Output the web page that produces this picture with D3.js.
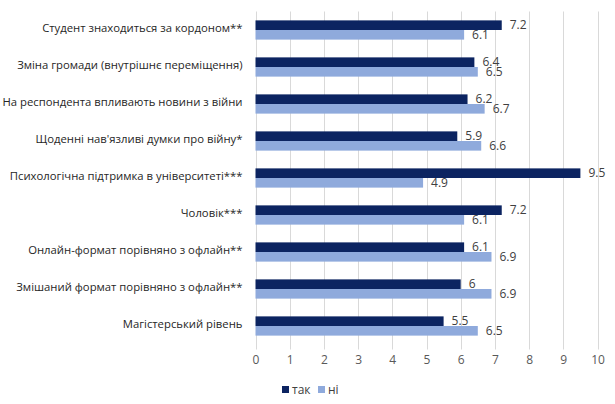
<!DOCTYPE html>
<html><head><meta charset="utf-8">
<script src="https://cdn.jsdelivr.net/npm/d3@7"></script>
<style>body{margin:0;background:#fff;} svg{display:block;}</style>
</head><body>
<svg id="c" width="615" height="404"></svg>
<script>
const categories = [
  "Студент знаходиться за кордоном**",
  "Зміна громади (внутрішнє переміщення)",
  "На респондента впливають новини з війни",
  "Щоденні нав'язливі думки про війну*",
  "Психологічна підтримка в університеті***",
  "Чоловік***",
  "Онлайн-формат порівняно з офлайн**",
  "Змішаний формат порівняно з офлайн**",
  "Магістерський рівень"
];
const seriesNames = ["так", "ні"];
const yesValues = [7.2, 6.4, 6.2, 5.9, 9.5, 7.2, 6.1, 6, 5.5];
const noValues  = [6.1, 6.5, 6.7, 6.6, 4.9, 6.1, 6.9, 6.9, 6.5];
const xTicks = [0,1,2,3,4,5,6,7,8,9,10];
const colors = ["#0c2461", "#8faadc"];

(function(){
const font = "'Open Sans', sans-serif";
const svg = d3.select("#c");
const pLeft = 255.5, pRight = 597.5, pTop = 11.5, pBottom = 344.5;
const x = d3.scaleLinear().domain([0,10]).range([pLeft, pRight]);
const y = d3.scaleBand().domain(categories).range([pTop, pBottom]).paddingInner(0.48).paddingOuter(0.24);
const ySub = d3.scaleBand().domain(seriesNames).range([0, y.bandwidth()]);

// gridlines
svg.append("g").selectAll("line").data(xTicks).join("line")
  .attr("x1", d => Math.round(x(d))+0.5).attr("x2", d => Math.round(x(d))+0.5)
  .attr("y1", pTop).attr("y2", pBottom + 5)
  .attr("stroke", "#d9d9d9").attr("stroke-width", 1);

// x axis labels
const xAxis = d3.axisBottom(x).tickValues(xTicks).tickSize(0).tickPadding(0).tickFormat(d3.format("d"));
const gx = svg.append("g").attr("transform", `translate(0,${pBottom+11})`).call(xAxis);
gx.select(".domain").remove();
gx.selectAll("text").attr("font-family", font).attr("font-size", 12).attr("fill", "#595959").attr("dy", "0.71em");

// y axis labels
const yAxis = d3.axisLeft(y).tickSize(0).tickPadding(13);
const gy = svg.append("g").attr("transform", `translate(${pLeft},-1.5)`).call(yAxis);
gy.select(".domain").remove();
gy.selectAll("text").attr("font-family", font).attr("font-size", 11.3).attr("fill", "#262626");

const rows = categories.map((c,i) => ({c, vals: [yesValues[i], noValues[i]]}));
const g = svg.append("g");
rows.forEach(r => {
  r.vals.forEach((v, j) => {
    const s = seriesNames[j];
    g.append("rect").attr("x", x(0)).attr("y", y(r.c) + ySub(s))
      .attr("width", x(v) - x(0)).attr("height", ySub.bandwidth())
      .attr("fill", colors[j]);
    g.append("text").attr("x", x(v) + 8).attr("y", y(r.c) + ySub(s) + ySub.bandwidth()/2)
      .attr("dy", "0.35em").attr("font-family", font).attr("font-size", 12)
      .attr("fill", "#404040").text(v);
  });
});

// legend
const leg = svg.append("g").attr("transform", "translate(282,390)");
const items = [{n: seriesNames[0], x: 0}, {n: seriesNames[1], x: 36}];
items.forEach((it, j) => {
  leg.append("rect").attr("x", it.x).attr("y", -4).attr("width", 7).attr("height", 7).attr("fill", colors[j]);
  leg.append("text").attr("x", it.x + 10).attr("y", 0).attr("dy", "0.35em")
    .attr("font-family", font).attr("font-size", 12).attr("fill", "#404040").text(it.n);
});
})();
</script>
</body></html>
